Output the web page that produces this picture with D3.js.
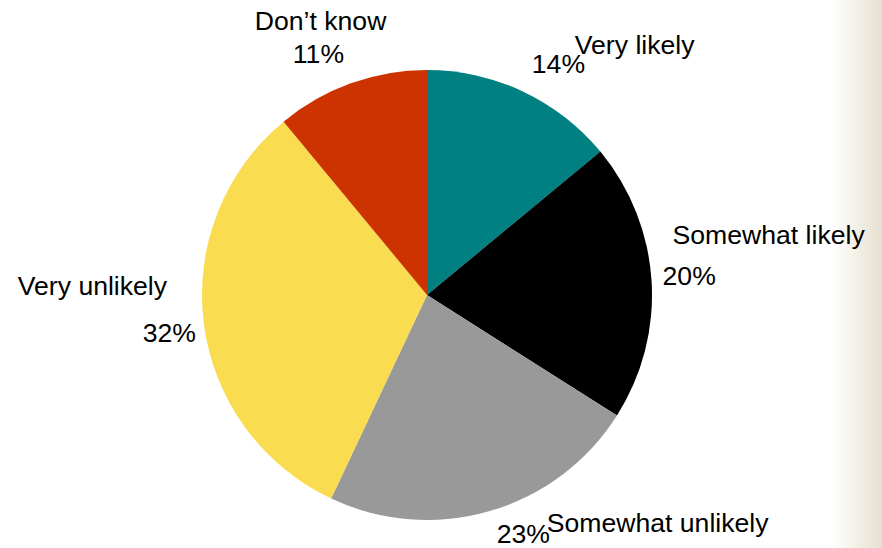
<!DOCTYPE html>
<html>
<head>
<meta charset="utf-8">
<script src="https://cdn.jsdelivr.net/npm/d3@7"></script>
<style>
  body { margin: 0; background: #fff; }
  svg { display: block; }
  text { font-family: "Liberation Sans", Arial, sans-serif; font-size: 26.6px; fill: #000; }
</style>
</head>
<body>
<div id="chart"></div>
<script>
// Chart data
const categories = ["Very likely", "Somewhat likely", "Somewhat unlikely", "Very unlikely", "Don\u2019t know"];
const values = [14, 20, 23, 32, 11];
const colors = ["#008080", "#000000", "#999999", "#f9dc50", "#cc3300"];

// Label nudges relative to the slice's outer mid point (name / percent)
const nameOffsets = [[52, -37], [21, -37], [57, 21], [-186, -28], [-96, -53]];
const pctOffsets = [[9, -18], [11, 4], [7, 32], [-61, 19], [-58, -20]];

const width = 882, height = 548;
const cx = 427, cy = 295, radius = 225;

const svg = d3.select("#chart")
    .append("svg")
    .attr("width", width)
    .attr("height", height);

// Beige strip fading in at the right edge
const grad = svg.append("defs")
    .append("linearGradient")
    .attr("id", "edge")
    .attr("x1", 0).attr("x2", 1).attr("y1", 0).attr("y2", 0);
grad.append("stop").attr("offset", "0%").attr("stop-color", "#ffffff");
grad.append("stop").attr("offset", "100%").attr("stop-color", "#e6e0cf");

svg.append("rect")
    .attr("x", 832).attr("y", 0)
    .attr("width", width - 832).attr("height", height)
    .attr("fill", "url(#edge)");

const pie = d3.pie().sort(null).value(d => d);
const arcs = pie(values);

const arc = d3.arc().innerRadius(0).outerRadius(radius);

const g = svg.append("g").attr("transform", `translate(${cx},${cy})`);

g.selectAll("path")
    .data(arcs)
    .enter()
    .append("path")
    .attr("d", arc)
    .attr("fill", (d, i) => colors[i]);

// Point on the rim at the middle of each slice
function rimPoint(d) {
    const a = (d.startAngle + d.endAngle) / 2;
    return [radius * Math.sin(a), -radius * Math.cos(a)];
}

const total = d3.sum(values);

const labels = g.selectAll("g.label")
    .data(arcs)
    .enter()
    .append("g")
    .attr("class", "label");

labels.append("text")
    .attr("x", (d, i) => rimPoint(d)[0] + nameOffsets[i][0])
    .attr("y", (d, i) => rimPoint(d)[1] + nameOffsets[i][1])
    .text((d, i) => categories[i]);

labels.append("text")
    .attr("x", (d, i) => rimPoint(d)[0] + pctOffsets[i][0])
    .attr("y", (d, i) => rimPoint(d)[1] + pctOffsets[i][1])
    .text(d => Math.round(d.value / total * 100) + "%");
</script>
</body>
</html>
